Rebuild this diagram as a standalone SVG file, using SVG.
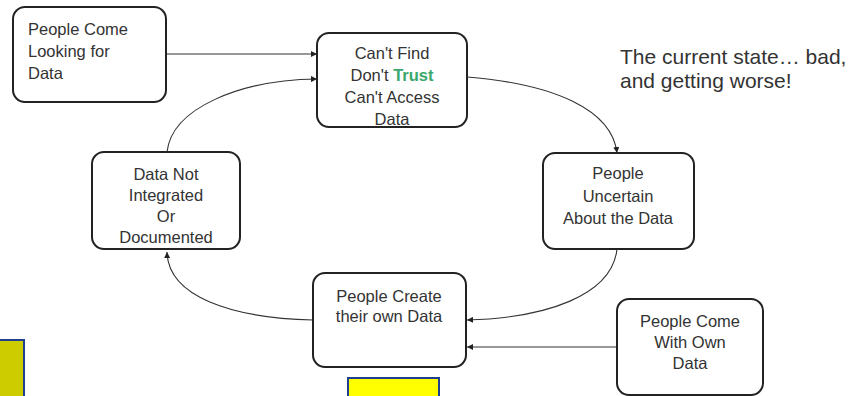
<svg xmlns="http://www.w3.org/2000/svg" width="864" height="396" viewBox="0 0 864 396">
<defs>
<marker id="arr" viewBox="0 0 10 10" refX="10" refY="5" markerWidth="6" markerHeight="6" orient="auto" markerUnits="userSpaceOnUse">
<path d="M0,0 L10,5 L0,10 z" fill="#222"/>
</marker>
<style>
.box{fill:#fff;stroke:#222;stroke-width:2}
.lbl{font-family:"Liberation Sans",Arial,sans-serif;font-size:16.5px;fill:#333}
.c{text-anchor:middle}
.conn{fill:none;stroke:#333;stroke-width:1.1;marker-end:url(#arr)}
.note{font-family:"Liberation Sans",Arial,sans-serif;font-size:21px;fill:#333}
</style>
</defs>
<rect width="864" height="396" fill="#fff"/>
<g id="connectors">
<path class="conn" d="M166,54 L317,54"/>
<path class="conn" d="M167,152 C172,108 240,80 317,79"/>
<path class="conn" d="M467,77 C555,84 612,110 617,153"/>
<path class="conn" d="M617,249 C612,296 545,318 467,320"/>
<path class="conn" d="M617,347 L467,347"/>
<path class="conn" d="M313,320 C230,318 168,296 167,252"/>
</g>
<g id="n1">
<rect class="box" x="13" y="7" width="153" height="95" rx="12"/>
<text class="lbl" x="28" y="35">People Come</text>
<text class="lbl" x="28" y="57">Looking for</text>
<text class="lbl" x="28" y="79">Data</text>
</g>
<g id="n2">
<rect class="box" x="317" y="33" width="150" height="94" rx="12"/>
<text class="lbl c" x="392" y="59">Can't Find</text>
<text class="lbl c" x="392" y="81">Don't <tspan font-weight="bold" fill="#3aa76d">Trust</tspan></text>
<text class="lbl c" x="392" y="103">Can't Access</text>
<text class="lbl c" x="392" y="125">Data</text>
</g>
<g id="note">
<text class="note" x="620" y="64">The current state… bad,</text>
<text class="note" x="620" y="88">and getting worse!</text>
</g>
<g id="n3">
<rect class="box" x="543" y="153" width="151" height="96" rx="12"/>
<text class="lbl c" x="618" y="179">People</text>
<text class="lbl c" x="618" y="202">Uncertain</text>
<text class="lbl c" x="618" y="224">About the Data</text>
</g>
<g id="n4">
<rect class="box" x="92" y="152" width="148" height="97" rx="12"/>
<text class="lbl c" x="166" y="180">Data Not</text>
<text class="lbl c" x="166" y="201">Integrated</text>
<text class="lbl c" x="166" y="222">Or</text>
<text class="lbl c" x="166" y="243">Documented</text>
</g>
<g id="n5">
<rect class="box" x="313" y="273" width="153" height="94" rx="12"/>
<text class="lbl c" x="389" y="302">People Create</text>
<text class="lbl c" x="389" y="322">their own Data</text>
</g>
<g id="n6">
<rect class="box" x="617" y="299" width="146" height="96" rx="12"/>
<text class="lbl c" x="690" y="327">People Come</text>
<text class="lbl c" x="690" y="348">With Own</text>
<text class="lbl c" x="690" y="369">Data</text>
</g>
<g id="yellow">
<rect x="-5" y="340" width="29" height="70" fill="#cccc00" stroke="#1f3f8f" stroke-width="2"/>
<rect x="348" y="378" width="91" height="30" fill="#ffff00" stroke="#1f3f8f" stroke-width="2"/>
</g>
</svg>
